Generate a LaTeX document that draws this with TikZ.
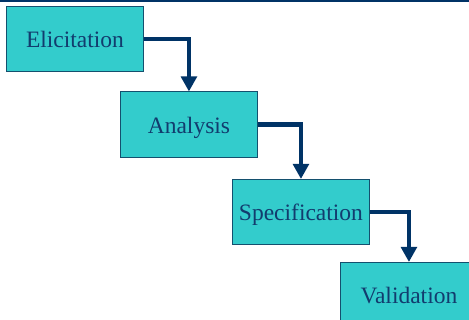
\documentclass[tikz,border=0pt]{standalone}
\usepackage{fontspec}
\setmainfont{Liberation Serif}
\usetikzlibrary{arrows.meta}
\definecolor{boxfill}{RGB}{51,204,204}
\definecolor{boxline}{RGB}{20,80,110}
\definecolor{txtcol}{RGB}{18,60,110}
\definecolor{navy}{RGB}{0,51,102}
\begin{document}
\begin{tikzpicture}[x=1pt,y=1pt,
  stagebox/.style={draw=boxline,line width=0.9pt,fill=boxfill,anchor=north west,
    minimum width=137pt,minimum height=65.5pt,inner sep=0pt,
    text height=17pt,text depth=0pt,
    font=\fontsize{23.5}{26}\selectfont,text=txtcol},
  flow/.style={draw=navy,line width=4.5pt,miter limit=10,
    -{Triangle[width=15.5pt,length=15pt]}}]
\useasboundingbox (0,0) rectangle (469,-320);
\coordinate (tl) at (0,-1);
\coordinate (tr) at (469,-1);
\draw[navy,line width=2.5pt] (tl) -- (tr);
\node[stagebox] (eli) at (6,-6) {Elicitation};
\node[stagebox] (ana) at (120,-91.5) {Analysis};
\node[stagebox] (spe) at (232,-179) {Specification};
\node[stagebox] (val) at (340,-262) {Validation};
\draw[flow] (eli.east) -| (ana.north);
\draw[flow] (ana.east) -| (spe.north);
\draw[flow] (spe.east) -| (val.north);
\end{tikzpicture}
\end{document}
